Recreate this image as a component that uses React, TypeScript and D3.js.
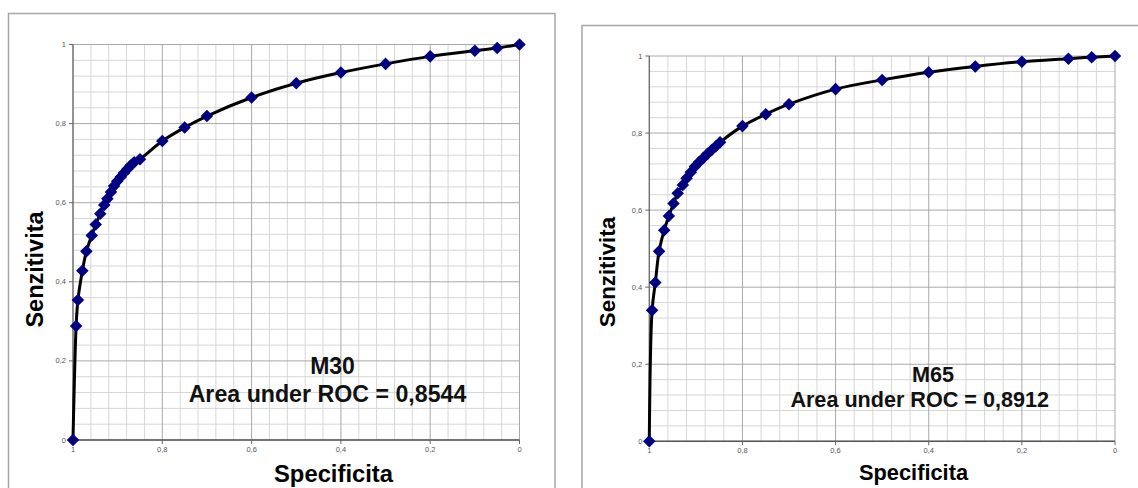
import React from "react";
import * as d3 from "d3";

// ---- Data ----
const m30Spec = [1, 0.993, 0.989, 0.979, 0.97, 0.958, 0.949, 0.939, 0.93, 0.923, 0.915, 0.908, 0.901, 0.893, 0.886, 0.878, 0.871, 0.863, 0.85, 0.8, 0.75, 0.7, 0.6, 0.5, 0.4, 0.3, 0.2, 0.1, 0.05, 0];
const m30Sens = [0, 0.288, 0.354, 0.428, 0.477, 0.517, 0.545, 0.572, 0.594, 0.61, 0.627, 0.642, 0.654, 0.665, 0.675, 0.685, 0.694, 0.702, 0.71, 0.756, 0.79, 0.819, 0.866, 0.902, 0.929, 0.951, 0.97, 0.984, 0.991, 1];

const m65Spec = [1, 0.994, 0.987, 0.979, 0.968, 0.958, 0.948, 0.939, 0.928, 0.92, 0.911, 0.902, 0.893, 0.884, 0.875, 0.866, 0.857, 0.848, 0.8, 0.75, 0.7, 0.6, 0.5, 0.4, 0.3, 0.2, 0.1, 0.05, 0];
const m65Sens = [0, 0.34, 0.412, 0.493, 0.548, 0.585, 0.617, 0.644, 0.665, 0.683, 0.698, 0.713, 0.725, 0.735, 0.746, 0.756, 0.766, 0.776, 0.818, 0.849, 0.875, 0.914, 0.938, 0.958, 0.973, 0.985, 0.993, 0.997, 1];

const majorTicks = [0, 0.2, 0.4, 0.6, 0.8, 1];
const tickLabels = ["0", "0,2", "0,4", "0,6", "0,8", "1"];
const xTitle = "Specificita";
const yTitle = "Senzitivita";
const models = ["M30", "M65"];
const aucLabels = ["Area under ROC = 0,8544", "Area under ROC = 0,8912"];

const minorTicks = d3.range(0, 26).map((i) => +(i * 0.04).toFixed(2));

const FONT = "'Liberation Sans', Arial, sans-serif";

type Layout = {
  frame: { x: number; y: number; w: number; h: number };
  plot: { x0: number; x1: number; y0: number; y1: number };
  yTitle: { x: number; y: number; size: number };
  xTitle: { x: number; y: number; size: number };
  model: { x: number; y: number; size: number };
  auc: { x: number; y: number; size: number };
};

const layouts: Layout[] = [
  {
    frame: { x: 8.5, y: 13.5, w: 546.5, h: 490 },
    plot: { x0: 73, x1: 519.5, y0: 440, y1: 44.5 },
    yTitle: { x: 43, y: 269.5, size: 23.5 },
    xTitle: { x: 333.5, y: 482, size: 23.8 },
    model: { x: 332.5, y: 374, size: 23 },
    auc: { x: 327.5, y: 402, size: 23.2 },
  },
  {
    frame: { x: 582, y: 25.5, w: 570, h: 480 },
    plot: { x0: 649.3, x1: 1115, y0: 441.3, y1: 56 },
    yTitle: { x: 615, y: 272, size: 22.3 },
    xTitle: { x: 913.5, y: 480, size: 21.8 },
    model: { x: 933, y: 381.7, size: 21.6 },
    auc: { x: 919.7, y: 406.7, size: 21.6 },
  },
];

function RocChart({ L, spec, sens, model, auc }: { L: Layout; spec: number[]; sens: number[]; model: string; auc: string }) {
  const x = d3.scaleLinear().domain([1, 0]).range([L.plot.x0, L.plot.x1]);
  const y = d3.scaleLinear().domain([0, 1]).range([L.plot.y0, L.plot.y1]);
  const pts: [number, number][] = spec.map((s, i) => [x(s), y(sens[i])]);
  const line = d3.line().curve(d3.curveCatmullRom.alpha(0.5))(pts) || "";
  const diamond = d3.symbol().type(d3.symbolDiamond2).size(100)() || "";
  const isMajor = (v: number) => majorTicks.some((m) => Math.abs(m - v) < 1e-6);

  return (
    <g>
      <rect x={L.frame.x} y={L.frame.y} width={L.frame.w} height={L.frame.h} fill="#fff" stroke="#a6a6a6" strokeWidth={1.5} />
      {/* minor grid */}
      {minorTicks.filter((v) => !isMajor(v)).map((v) => (
        <g key={"m" + v}>
          <line x1={x(v)} x2={x(v)} y1={L.plot.y0} y2={L.plot.y1} stroke="#d6d6d6" strokeWidth={1} />
          <line x1={L.plot.x0} x2={L.plot.x1} y1={y(v)} y2={y(v)} stroke="#d6d6d6" strokeWidth={1} />
        </g>
      ))}
      {/* major grid */}
      {majorTicks.map((v) => (
        <g key={"M" + v}>
          <line x1={x(v)} x2={x(v)} y1={L.plot.y0} y2={L.plot.y1} stroke="#a8a8a8" strokeWidth={1} />
          <line x1={L.plot.x0} x2={L.plot.x1} y1={y(v)} y2={y(v)} stroke="#a8a8a8" strokeWidth={1} />
        </g>
      ))}
      {/* axes */}
      <line x1={L.plot.x0} x2={L.plot.x0} y1={L.plot.y0} y2={L.plot.y1} stroke="#666" strokeWidth={1.2} />
      <line x1={L.plot.x0} x2={L.plot.x1} y1={L.plot.y0} y2={L.plot.y0} stroke="#555" strokeWidth={1.5} />
      {majorTicks.map((v, i) => (
        <g key={"t" + v}>
          <line x1={L.plot.x0 - 4} x2={L.plot.x0} y1={y(v)} y2={y(v)} stroke="#666" strokeWidth={1} />
          <line x1={x(v)} x2={x(v)} y1={L.plot.y0} y2={L.plot.y0 + 4} stroke="#666" strokeWidth={1} />
          <text x={L.plot.x0 - 7} y={y(v) + 2.5} fontSize={7.5} fill="#555" textAnchor="end" fontFamily={FONT}>{tickLabels[i]}</text>
          <text x={x(v)} y={L.plot.y0 + 12} fontSize={7.5} fill="#555" textAnchor="middle" fontFamily={FONT}>{tickLabels[i]}</text>
        </g>
      ))}
      {/* curve */}
      <path d={line} fill="none" stroke="#000" strokeWidth={3} />
      {pts.map((p, i) => (
        <path key={"p" + i} d={diamond} transform={`translate(${p[0]},${p[1]})`} fill="#000080" />
      ))}
      {/* titles */}
      <text transform={`translate(${L.yTitle.x},${L.yTitle.y}) rotate(-90)`} textAnchor="middle" fontSize={L.yTitle.size} fontWeight="bold" fontFamily={FONT} fill="#000">{yTitle}</text>
      <text x={L.xTitle.x} y={L.xTitle.y} textAnchor="middle" fontSize={L.xTitle.size} fontWeight="bold" fontFamily={FONT} fill="#000">{xTitle}</text>
      <text x={L.model.x} y={L.model.y} textAnchor="middle" fontSize={L.model.size} fontWeight="bold" fontFamily={FONT} fill="#111">{model}</text>
      <text x={L.auc.x} y={L.auc.y} textAnchor="middle" fontSize={L.auc.size} fontWeight="bold" fontFamily={FONT} fill="#111">{auc}</text>
    </g>
  );
}

export default function App() {
  return (
    <svg width={1138} height={488} style={{ position: "absolute", left: 0, top: 0, background: "#fff" }}>
      <rect x={0} y={0} width={1138} height={488} fill="#fff" />
      <RocChart L={layouts[0]} spec={m30Spec} sens={m30Sens} model={models[0]} auc={aucLabels[0]} />
      <RocChart L={layouts[1]} spec={m65Spec} sens={m65Sens} model={models[1]} auc={aucLabels[1]} />
    </svg>
  );
}
